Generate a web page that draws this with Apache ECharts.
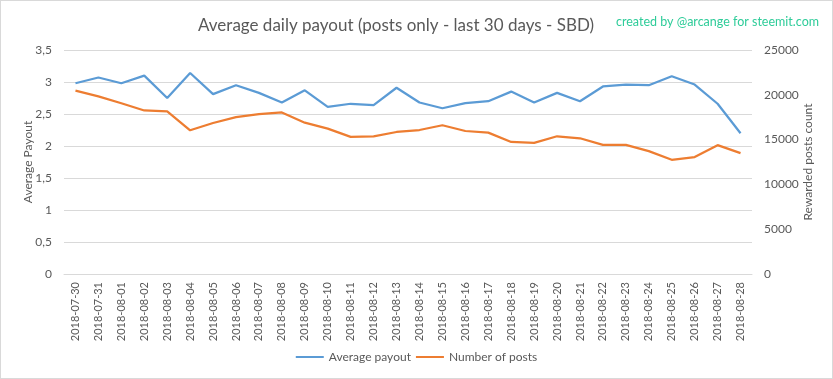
<!DOCTYPE html>
<html><head><meta charset="utf-8">
<script src="https://cdn.jsdelivr.net/npm/echarts@6/dist/echarts.min.js"></script>
<style>html,body{margin:0;padding:0;background:#fff}#c{width:831px;height:377px;border:1px solid #d9d9d9}</style>
</head><body><div id="c"></div>
<script>
const categories = ['2018-07-30','2018-07-31','2018-08-01','2018-08-02','2018-08-03','2018-08-04','2018-08-05','2018-08-06','2018-08-07','2018-08-08','2018-08-09','2018-08-10','2018-08-11','2018-08-12','2018-08-13','2018-08-14','2018-08-15','2018-08-16','2018-08-17','2018-08-18','2018-08-19','2018-08-20','2018-08-21','2018-08-22','2018-08-23','2018-08-24','2018-08-25','2018-08-26','2018-08-27','2018-08-28'];
const averagePayout = [2.98,3.07,2.98,3.10,2.75,3.14,2.81,2.95,2.83,2.68,2.87,2.61,2.66,2.64,2.91,2.68,2.59,2.67,2.70,2.85,2.68,2.83,2.70,2.93,2.96,2.95,3.09,2.96,2.66,2.20];
const numberOfPosts = [20460,19830,19060,18250,18140,16040,16850,17510,17840,18030,16890,16220,15300,15370,15850,16070,16600,15960,15780,14740,14630,15370,15150,14410,14410,13710,12750,13050,14380,13490];
const leftTicks = [0,0.5,1,1.5,2,2.5,3,3.5];
const rightTicks = [0,5000,10000,15000,20000,25000];

const font = "Lato, 'Open Sans', sans-serif";
const chart = echarts.init(document.getElementById('c'));
chart.setOption({
  animation: false,
  textStyle: {fontFamily: font},
  title: [{
    text: 'Average daily payout (posts only - last 30 days - SBD)',
    left: 390, top: 11, textAlign: 'center',
    textStyle: {fontSize: 17, fontWeight: 'normal', color: '#595959', fontFamily: font}
  },{
    text: 'created by @arcange for steemit.com',
    right: 8, top: 9,
    textStyle: {fontSize: 12.5, fontWeight: 'normal', color: '#2ecc99', fontFamily: font}
  }],
  legend: {
    bottom: 10, left: 'center', itemWidth: 28, itemHeight: 2, itemGap: 5,
    icon: 'rect',
    textStyle: {fontSize: 12, color: '#595959', fontFamily: font},
    data: ['Average payout','Number of posts']
  },
  grid: {left: 63, right: 80, top: 49, bottom: 104},
  xAxis: {
    type: 'category', data: categories, boundaryGap: true,
    axisLine: {lineStyle: {color: '#d9d9d9'}},
    axisTick: {show: false},
    axisLabel: {rotate: 90, color: '#595959', fontSize: 11, interval: 0, margin: 8}
  },
  yAxis: [{
    type: 'value', min: 0, max: 3.5, interval: 0.5,
    name: 'Average Payout', nameLocation: 'middle', nameGap: 30, nameMoveOverlap: false,
    nameTextStyle: {color: '#595959', fontSize: 12},
    axisLine: {show: false}, axisTick: {show: false},
    splitLine: {lineStyle: {color: '#d9d9d9'}},
    axisLabel: {color: '#595959', fontSize: 12, margin: 12,
      formatter: v => leftTicks.includes(v) ? String(v).replace('.', ',') : ''}
  },{
    type: 'value', min: 0, max: 25000, interval: 5000,
    name: 'Rewarded posts count', nameLocation: 'middle', nameGap: 50, nameRotate: 90, nameMoveOverlap: false,
    nameTextStyle: {color: '#595959', fontSize: 12},
    axisLine: {show: false}, axisTick: {show: false},
    splitLine: {show: false},
    axisLabel: {color: '#595959', fontSize: 12, margin: 12,
      formatter: v => rightTicks.includes(v) ? String(v) : ''}
  }],
  series: [{
    name: 'Average payout', type: 'line', data: averagePayout, yAxisIndex: 0,
    showSymbol: false, symbol: 'none', color: '#5b9bd5',
    lineStyle: {width: 2.25, color: '#5b9bd5'}
  },{
    name: 'Number of posts', type: 'line', data: numberOfPosts, yAxisIndex: 1,
    showSymbol: false, symbol: 'none', color: '#ed7d31',
    lineStyle: {width: 2.25, color: '#ed7d31'}
  }]
});
</script></body></html>
